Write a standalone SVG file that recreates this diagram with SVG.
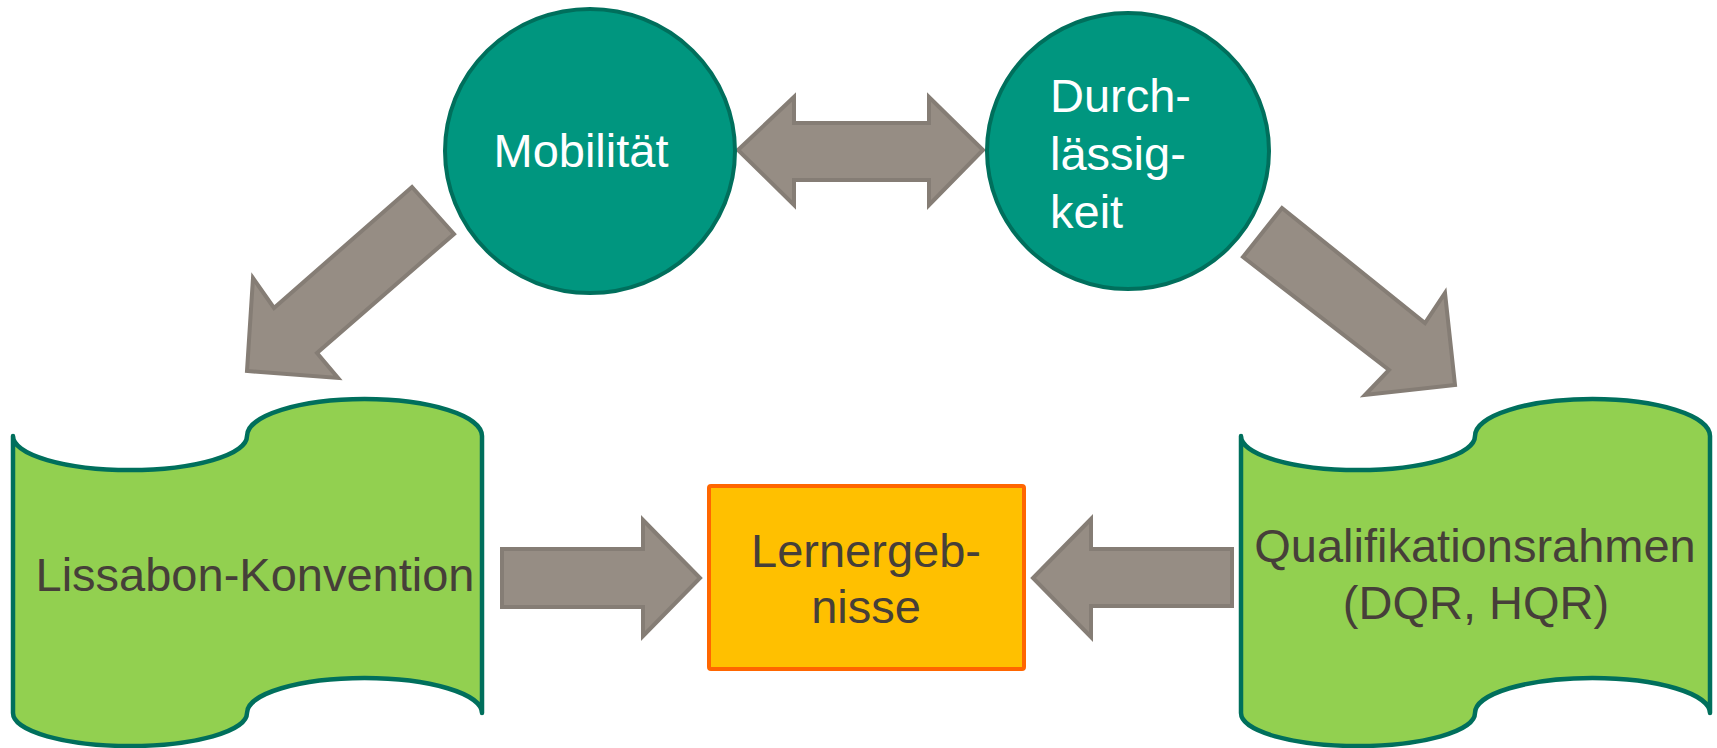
<svg xmlns="http://www.w3.org/2000/svg" width="1717" height="748" viewBox="0 0 1717 748">
  <style>
    .circle { fill: #00967F; stroke: #006F5C; stroke-width: 4; }
    .wave { fill: #92D050; stroke: #006F5C; stroke-width: 4.5; stroke-linejoin: round; }
    .box { fill: #FFC000; stroke: #FF6600; stroke-width: 4; }
    .arrow { fill: #968D84; stroke: #857D75; stroke-width: 4; stroke-linejoin: miter; }
    .lt { font-family: "Liberation Sans", Arial, sans-serif; font-size: 47px; fill: #FFFFFF; }
    .dt { font-family: "Liberation Sans", Arial, sans-serif; font-size: 47px; fill: #463F39; }
  </style>
  <rect width="1717" height="748" fill="#FFFFFF"/>

  <g id="connectors">
    <polygon class="arrow" points="738,150 794,97 794,123 929,123 929,97 983,150 929,205 929,180 794,180 794,205"/>
    <polygon class="arrow" points="412,187 454,234 317,353 338,378 247,371 253,278 274,308"/>
    <polygon class="arrow" points="1282,208 1425,323 1445,293 1455,385 1365,395 1389,370 1243,257"/>
    <polygon class="arrow" points="502,549 643,549 643,520 700,578 643,636 643,607 502,607"/>
    <polygon class="arrow" points="1232,549 1091,549 1091,519 1033,578 1091,637 1091,606 1232,606"/>
  </g>

  <g id="node-mobilitaet">
    <ellipse class="circle" cx="590" cy="151" rx="145" ry="142"/>
    <text class="lt" x="581" y="167" text-anchor="middle">Mobilität</text>
  </g>

  <g id="node-durchlaessigkeit">
    <ellipse class="circle" cx="1128" cy="151" rx="141" ry="138"/>
    <text class="lt" x="1050" y="112">Durch-</text>
    <text class="lt" x="1050" y="170">lässig-</text>
    <text class="lt" x="1050" y="228">keit</text>
  </g>

  <g id="node-lissabon">
    <path class="wave" d="M13,436 A117,34 0 0 0 247,436 A117.5,37 0 0 1 482,436 L482,713 A117.5,35 0 0 0 247,713 A117,33 0 0 1 13,713 Z"/>
    <text class="dt" x="255" y="591" text-anchor="middle">Lissabon-Konvention</text>
  </g>

  <g id="node-qualifikationsrahmen">
    <path class="wave" d="M1241,436 A117,34 0 0 0 1475,436 A117.5,37 0 0 1 1710,436 L1710,713 A117.5,35 0 0 0 1475,713 A117,33 0 0 1 1241,713 Z"/>
    <text class="dt" x="1475" y="562" text-anchor="middle">Qualifikationsrahmen</text>
    <text class="dt" x="1476" y="619" text-anchor="middle">(DQR, HQR)</text>
  </g>

  <g id="node-lernergebnisse">
    <rect class="box" x="709" y="486" width="315" height="183" rx="2"/>
    <text class="dt" x="866" y="567" text-anchor="middle">Lernergeb-</text>
    <text class="dt" x="866" y="623" text-anchor="middle">nisse</text>
  </g>
</svg>
